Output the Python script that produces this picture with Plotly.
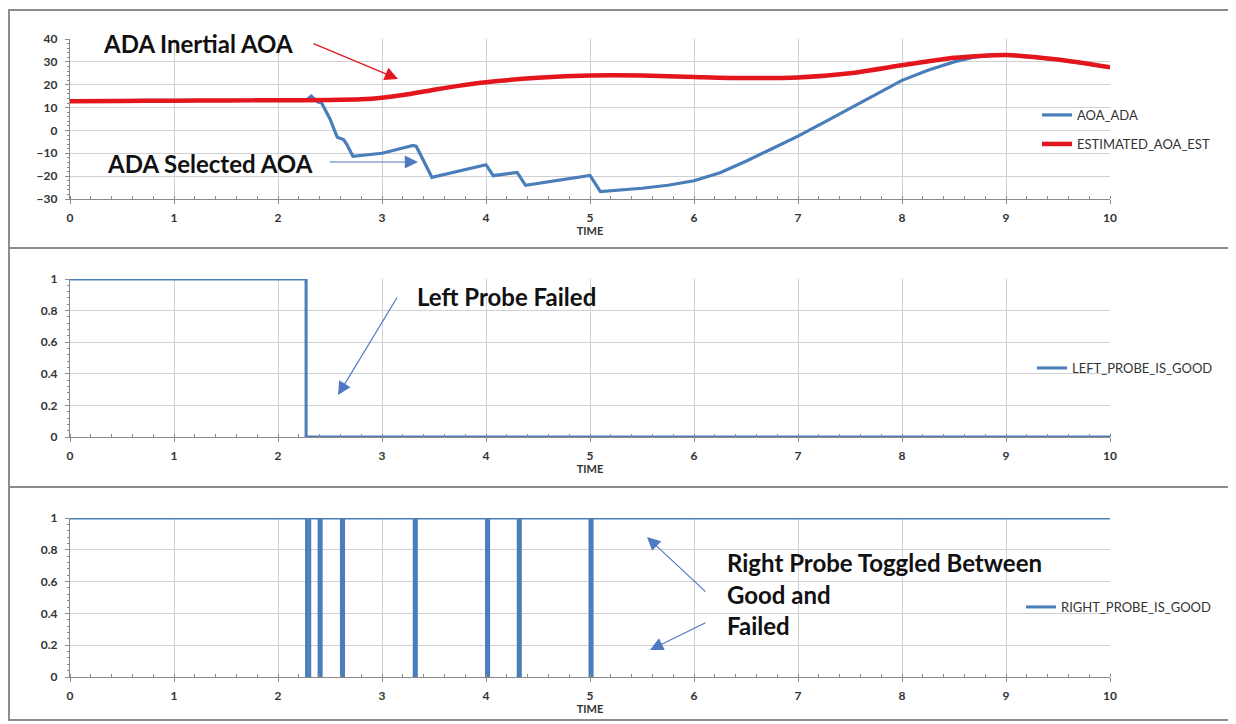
import plotly.graph_objects as go

W, H = 1236, 724
OFF = 8  # page body margin of the html page

# ---------------- data ----------------
aoa_t = [0, 0.5, 1, 1.5, 2, 2.28, 2.32, 2.38, 2.42, 2.5, 2.57, 2.63, 2.66, 2.72,
         3.0, 3.3, 3.33, 3.48, 4.0, 4.07, 4.3, 4.38, 5.0, 5.1, 5.5, 5.75, 6.0,
         6.25, 6.5, 6.75, 7.0, 7.25, 7.5, 7.75, 8.0, 8.25, 8.5, 8.7, 8.9, 9.0,
         9.5, 10]
aoa_ada = [13, 13, 13, 13, 13.2, 13.5, 15, 12.5, 12, 5, -3, -4, -6, -11.3,
           -10, -6.6, -7, -20.5, -15, -19.8, -18.4, -24, -19.7, -26.8, -25.3, -24, -22,
           -18.5, -13.5, -8, -2.5, 3.5, 9.5, 15.8, 21.9, 26.3, 30, 32.2, 33, 33,
           31, 27.6]

est_t = [0, 0.5, 1, 1.5, 2, 2.5, 2.8, 3.0, 3.25, 3.5, 3.75, 4.0, 4.5, 5.0, 5.5,
         6.0, 6.5, 7.0, 7.5, 8.0, 8.5, 9.0, 9.5, 10]
est_aoa = [12.8, 12.9, 13, 13.1, 13.2, 13.3, 13.6, 14.3, 15.8, 17.8, 19.6, 21.1,
           23, 24, 24, 23.4, 22.9, 23.2, 25, 28.5, 31.8, 33, 31, 27.6]

left_t = [0, 2.27, 10]
left_good = [1, 0, 0]

right_t = [0, 2.275, 2.305, 2.395, 2.415, 2.61, 2.63, 3.31, 3.33, 4.005, 4.025,
           4.31, 4.33, 5.0, 5.02, 10]
right_good = [1, 0, 1, 0, 1, 0, 1, 0, 1, 0, 1, 0, 1, 0, 1, 1]

x_ticks = list(range(0, 11))
aoa_ticks = [-30, -20, -10, 0, 10, 20, 30, 40]
probe_ticks = [0, 0.2, 0.4, 0.6, 0.8, 1]

# ---------------- styling ----------------
BLUE = "#4a7ebb"
RED = "#e3161d"
ARROW_BLUE = "#5079c4"
GRID = "#d0d0d0"
AXIS = "#8a8a8a"
FONT = "Lato"
TICKFONT = dict(family=FONT, size=12, color="#333333", weight="bold")


def px_x(p):
    return (p - OFF) / W


def px_y(p):
    return 1 - (p - OFF) / H


x_dom = [px_x(70), px_x(1110)]
y_doms = [
    [px_y(199), px_y(39)],
    [px_y(437), px_y(279)],
    [px_y(677), px_y(518)],
]

fig = go.Figure()

fig.add_trace(go.Scatter(x=aoa_t, y=aoa_ada, mode="lines", name="AOA_ADA",
                         line=dict(color=BLUE, width=3.2), xaxis="x", yaxis="y",
                         legend="legend"))
fig.add_trace(go.Scatter(x=est_t, y=est_aoa, mode="lines", name="ESTIMATED_AOA_EST",
                         line=dict(color=RED, width=4.5, shape="spline", smoothing=0.6),
                         xaxis="x", yaxis="y", legend="legend2"))
fig.add_trace(go.Scatter(x=left_t, y=left_good, mode="lines", name="LEFT_PROBE_IS_GOOD",
                         line=dict(color=BLUE, width=3, shape="hv"),
                         xaxis="x2", yaxis="y2", legend="legend3"))
fig.add_trace(go.Scatter(x=right_t, y=right_good, mode="lines", name="RIGHT_PROBE_IS_GOOD",
                         line=dict(color=BLUE, width=3, shape="hv"),
                         xaxis="x3", yaxis="y3", legend="legend4"))


def xaxis(anchor):
    return dict(domain=x_dom, anchor=anchor, range=[0, 10], tickvals=x_ticks,
                showgrid=True, gridcolor=GRID, gridwidth=1, zeroline=False,
                showline=True, linecolor=AXIS, linewidth=1.2,
                ticks="outside", ticklen=4, tickcolor=AXIS,
                minor=dict(dtick=0.2, tick0=0, ticks="inside", ticklen=3,
                           tickcolor=AXIS, showgrid=False),
                tickfont=TICKFONT, ticklabelstandoff=3,
                title=dict(text="TIME", standoff=2,
                           font=dict(family=FONT, size=11, color="#333", weight="bold")))


def yaxis(anchor, dom, rng, ticks, mdt):
    return dict(domain=dom, anchor=anchor, range=rng, tickvals=ticks,
                showgrid=True, gridcolor=GRID, gridwidth=1, zeroline=False,
                showline=True, linecolor=AXIS, linewidth=1.2,
                ticks="outside", ticklen=4, tickcolor=AXIS,
                minor=dict(dtick=mdt, ticks="outside", ticklen=2,
                           tickcolor=AXIS, showgrid=False),
                tickfont=TICKFONT, ticklabelstandoff=5)


def legend(y_px, x_px):
    return dict(x=px_x(x_px), y=px_y(y_px), xanchor="left", yanchor="middle",
                bgcolor="rgba(0,0,0,0)", borderwidth=0,
                font=dict(family=FONT, size=13, color="#333"))


fig.update_layout(
    width=W, height=H,
    margin=dict(l=0, r=0, t=0, b=0, pad=0, autoexpand=False),
    paper_bgcolor="white", plot_bgcolor="white",
    showlegend=True,
    xaxis=xaxis("y"), xaxis2=xaxis("y2"), xaxis3=xaxis("y3"),
    yaxis=yaxis("x", y_doms[0], [-30, 40], aoa_ticks, 2),
    yaxis2=yaxis("x2", y_doms[1], [0, 1], probe_ticks, 0.04),
    yaxis3=yaxis("x3", y_doms[2], [0, 1], probe_ticks, 0.04),
    legend=legend(115, 1037),
    legend2=legend(144, 1037),
    legend3=legend(368, 1032),
    legend4=legend(607, 1021),
)

# panel boxes
for top, bot in [(10, 248), (248, 487), (487, 720)]:
    fig.add_shape(type="rect", xref="paper", yref="paper",
                  x0=px_x(9), x1=px_x(1232), y0=px_y(bot), y1=px_y(top),
                  line=dict(color="#8c8c8c", width=2), layer="below")

LABEL_FONT = dict(family=FONT, size=24, color="#111", weight="bold")


def label(text, x_px, y_px):
    fig.add_annotation(text=text, xref="paper", yref="paper",
                       x=px_x(x_px), y=px_y(y_px), xanchor="left", yanchor="middle",
                       showarrow=False, font=LABEL_FONT)


def arrow(tip, tail, color):
    fig.add_annotation(text="", xref="paper", yref="paper",
                       x=px_x(tip[0]), y=px_y(tip[1]),
                       ax=tail[0] - tip[0], ay=tail[1] - tip[1],
                       axref="pixel", ayref="pixel",
                       showarrow=True, arrowhead=2, arrowsize=2.2, arrowwidth=1.2,
                       arrowcolor=color, standoff=0, startstandoff=0)


label("ADA Inertial AOA", 101, 44)
label("ADA Selected AOA", 105, 163)
label("Left Probe Failed", 415, 297)
label("Right Probe Toggled Between", 725, 562)
label("Good and", 725, 594)
label("Failed", 725, 625)

arrow((398, 79), (312, 43), RED)
arrow((418, 162), (328, 162), ARROW_BLUE)
arrow((338, 395), (398, 296), ARROW_BLUE)
arrow((647, 537), (707, 593), ARROW_BLUE)
arrow((650, 650), (707, 622), ARROW_BLUE)

fig.write_html("out.html")
